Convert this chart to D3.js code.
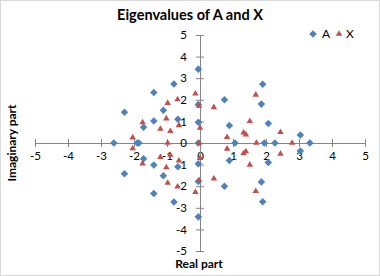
<!DOCTYPE html>
<html>
<head>
<meta charset="utf-8">
<script src="https://cdn.jsdelivr.net/npm/d3@7"></script>
<style>
  body { margin: 0; background: #fff; }
  svg { display: block; font-family: "Lato", "Liberation Sans", sans-serif; }
</style>
</head>
<body>
<div id="chart"></div>
<script>
// eigenvalues
const aReal = [-0.05, -0.05, -0.79, -0.79, -1.40, -1.40, -2.29, -2.29, -1.11, -1.11, -1.40, -1.40, -0.67, -0.67, -1.71, -1.71, -0.05, -0.05, -0.05, -0.05, -0.05, -2.61, -1.90, -1.85,
  1.90, 1.90, 0.74, 0.74, 1.86, 1.86, 0.89, 0.89, 2.07, 2.07, 3.04, 3.04, 1.06, 1.95, 2.27, 3.33];
const aImag = [3.42, -3.42, 2.73, -2.73, 2.34, -2.34, 1.42, -1.42, 1.52, -1.52, 1.02, -1.02, 1.10, -1.10, 0.73, -0.73, 1.78, -1.78, 0.96, -0.96, 0, 0, 0, 0,
  2.72, -2.72, 2.00, -2.00, 1.80, -1.80, 0.81, -0.81, 0.90, -0.90, 0.37, -0.37, 0, 0, 0, 0];

const xReal = [-0.14, -0.14, -0.03, -0.03, 0, 0, -0.03, -0.68, -0.68, -0.98, -0.98, -1.02, -1.02, -1.74, -1.74, -1.20, -1.20, -0.90, -0.90, -0.64, -0.64, -2.04, -2.04, -0.98,
  1.69, 1.69, 0.42, 0.42, 1.51, 1.51, 2.44, 2.44, 1.32, 1.32, 1.39, 1.39, 0.82, 0.82, 1.71, 2.79];
const xImag = [2.28, -2.28, 1.72, -1.72, 0.70, -0.70, 0, 2.02, -2.02, 1.85, -1.85, 1.13, -1.13, 0.95, -0.95, 0.65, -0.65, 0.55, -0.55, 0.82, -0.82, 0.25, -0.25, 0,
  2.23, -2.23, 1.65, -1.65, 1.01, -1.01, 0.50, -0.50, 0.48, -0.48, 0.39, -0.39, 0.27, -0.27, 0, 0];

const ticks = [-5, -4, -3, -2, -1, 0, 1, 2, 3, 4, 5];
const seriesNames = ["A", "X"];
const colors = ["#4F81BD", "#C0504D"];

const W = 380, H = 276;
const svg = d3.select("#chart").append("svg")
  .attr("width", W).attr("height", H);

svg.append("rect")
  .attr("x", 0.5).attr("y", 0.5)
  .attr("width", W - 1).attr("height", H - 1)
  .attr("fill", "#fff").attr("stroke", "#d9d9d9");

const x = d3.scaleLinear().domain([-5, 5]).range([35, 365]);
const y = d3.scaleLinear().domain([-5, 5]).range([251, 35]);

// title
svg.append("text")
  .attr("x", 190).attr("y", 20)
  .attr("text-anchor", "middle")
  .style("font-size", "14.5px").style("font-weight", "bold")
  .attr("fill", "#000")
  .text("Eigenvalues of A and X");

// plain hyphen for negatives, like the original
const fmt = d => String(d);

// x axis through origin
const xAxis = svg.append("g")
  .attr("transform", `translate(0,${y(0)})`)
  .call(d3.axisBottom(x).tickValues(ticks).tickFormat(fmt).tickSize(4));
xAxis.selectAll(".tick line").attr("y1", -4).attr("y2", 4);
xAxis.selectAll(".tick text").attr("y", 13).attr("dy", "0.32em");

// y axis through origin
const yAxis = svg.append("g")
  .attr("transform", `translate(${x(0)},0)`)
  .call(d3.axisLeft(y).tickValues(ticks).tickFormat(fmt).tickSize(4));
yAxis.selectAll(".tick line").attr("x1", -4).attr("x2", 4);
yAxis.selectAll(".tick text").attr("x", -13);

svg.selectAll(".domain").attr("stroke", "#868686");
svg.selectAll(".tick line").attr("stroke", "#868686");
svg.selectAll(".tick text")
  .style("font-size", "11.5px")
  .style("font-family", "Lato, 'Liberation Sans', sans-serif")
  .attr("fill", "#000");

// axis titles
svg.append("text")
  .attr("transform", `translate(16,${y(0)}) rotate(-90)`)
  .attr("text-anchor", "middle")
  .style("font-size", "12px").style("font-weight", "bold")
  .text("Imaginary part");

svg.append("text")
  .attr("x", 199).attr("y", 268)
  .attr("text-anchor", "middle")
  .style("font-size", "12px").style("font-weight", "bold")
  .text("Real part");

// markers
const diamond = d3.symbol().type(d3.symbolDiamond2).size(36);
const triangle = d3.symbol().type(d3.symbolTriangle2).size(30);

svg.append("g").selectAll("path")
  .data(aReal.map((r, i) => [r, aImag[i]]))
  .join("path")
  .attr("d", diamond)
  .attr("transform", d => `translate(${x(d[0])},${y(d[1])})`)
  .attr("fill", colors[0]);

svg.append("g").selectAll("path")
  .data(xReal.map((r, i) => [r, xImag[i]]))
  .join("path")
  .attr("d", triangle)
  .attr("transform", d => `translate(${x(d[0])},${y(d[1])})`)
  .attr("fill", colors[1]);

// legend
const legend = svg.append("g").attr("transform", "translate(313,34)");
legend.append("path").attr("d", diamond).attr("fill", colors[0]);
legend.append("text").attr("x", 9).attr("y", 4).style("font-size", "12px").text(seriesNames[0]);
legend.append("path").attr("d", triangle).attr("transform", "translate(26,0)").attr("fill", colors[1]);
legend.append("text").attr("x", 33).attr("y", 4).style("font-size", "12px").text(seriesNames[1]);
</script>
</body>
</html>
